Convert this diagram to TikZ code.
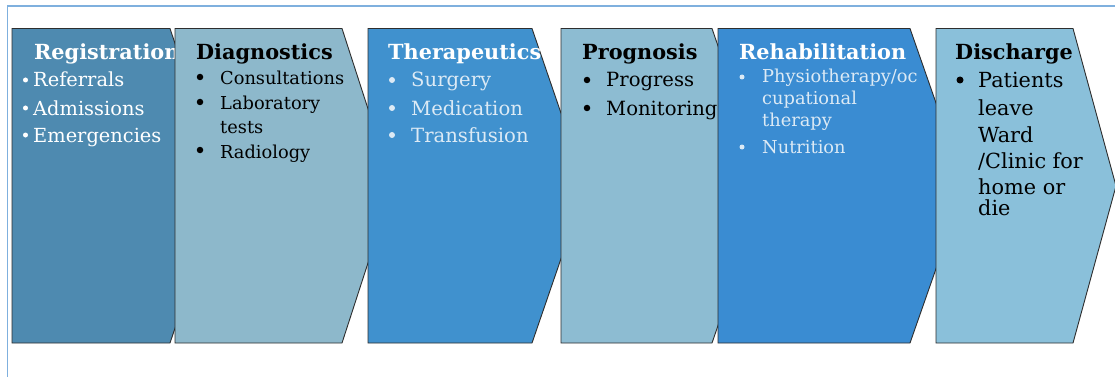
\documentclass[tikz,border=0pt]{standalone}
\usepackage{fontspec}
\setmainfont{DejaVu Serif}
\definecolor{frameblue}{HTML}{7FB0DE}
\definecolor{regfill}{HTML}{4E8AB0}
\definecolor{diagfill}{HTML}{8DB8CB}
\definecolor{therfill}{HTML}{4091CE}
\definecolor{progfill}{HTML}{8DBCD2}
\definecolor{rehabfill}{HTML}{3A8CD2}
\definecolor{discfill}{HTML}{8AC0DA}
\definecolor{paletext}{HTML}{DCEAF5}
\definecolor{edge}{HTML}{2E2E2E}
% one stage of the pathway: fill, left x, top/bottom right corner x, tip x
\newcommand\stagebox[5]{%
  \path[stage,fill=#2] (#3,28.5) -- (#4,28.5) -- (#5,186) -- (#4,343) -- (#3,343) -- cycle;}
\begin{document}
\begin{tikzpicture}[x=1pt,y=-1pt,
  stage/.style={draw=edge, line width=0.9pt, line join=miter},
  ttl/.style={anchor=base west, inner sep=0pt, font=\fontsize{20.8}{20.8}\selectfont\bfseries},
  itm/.style={anchor=base west, inner sep=0pt},
  dot/.style={circle, inner sep=0pt, minimum size=#1},
  regtxt/.style={text=white, font=\fontsize{19.4}{19.4}\selectfont},
  regdot/.style={dot=5pt, fill=white},
  diagtxt/.style={text=black, font=\fontsize{17.8}{17.8}\selectfont},
  diagdot/.style={dot=6.5pt, fill=black},
  thertxt/.style={text=paletext, font=\fontsize{19.6}{19.6}\selectfont},
  therdot/.style={dot=6pt, fill=paletext},
  progtxt/.style={text=black, font=\fontsize{19.6}{19.6}\selectfont},
  progdot/.style={dot=6.5pt, fill=black},
  rehabtxt/.style={text=paletext, font=\fontsize{17.8}{17.8}\selectfont},
  rehabdot/.style={dot=5pt, fill=paletext},
  disctxt/.style={text=black, font=\fontsize{20.8}{20.8}\selectfont},
  discdot/.style={dot=7pt, fill=black},
]
\useasboundingbox (0,0) rectangle (1115,377);
\fill[white] (0,0) rectangle (1115,377);

% outer frame
\draw[frameblue, line width=1.4pt] (7.5,380) -- (7.5,6) -- (1120,6);

% each stage is drawn with its text, then the next stage covers its tip

% Registration
\stagebox{reg}{regfill}{12}{170}{223}
\node[ttl, text=white] (regT) at (34,60) {Registration};
\node[regdot] (regB1) at (25.5,80) {};
\node[itm, regtxt] (regI1) at (33,87) {Referrals};
\node[regdot] (regB2) at (25.5,108) {};
\node[itm, regtxt] (regI2) at (33,115) {Admissions};
\node[regdot] (regB3) at (25.5,135) {};
\node[itm, regtxt] (regI3) at (33,142) {Emergencies};

% Diagnostics
\stagebox{diag}{diagfill}{175}{342}{393}
\node[ttl, text=black] (diagT) at (196,60) {Diagnostics};
\node[diagdot] (diagB1) at (200,77) {};
\node[itm, diagtxt] (diagI1) at (220,85) {Consultations};
\node[diagdot] (diagB2) at (200,102) {};
\node[itm, diagtxt] (diagI2) at (220,110) {Laboratory};
\node[itm, diagtxt] (diagI2b) at (220,133) {tests};
\node[diagdot] (diagB3) at (200,150) {};
\node[itm, diagtxt] (diagI3) at (220,158) {Radiology};

% Therapeutics
\stagebox{ther}{therfill}{368}{532}{586}
\node[ttl, text=white] (therT) at (388,60) {Therapeutics};
\node[therdot] (therB1) at (392,80) {};
\node[itm, thertxt] (therI1) at (411,87) {Surgery};
\node[therdot] (therB2) at (392,108) {};
\node[itm, thertxt] (therI2) at (411,115) {Medication};
\node[therdot] (therB3) at (392,135) {};
\node[itm, thertxt] (therI3) at (411,142) {Transfusion};

% Prognosis
\stagebox{prog}{progfill}{561}{712}{766}
\node[ttl, text=black] (progT) at (582,60) {Prognosis};
\node[progdot] (progB1) at (587,80) {};
\node[itm, progtxt] (progI1) at (606,87) {Progress};
\node[progdot] (progB2) at (587,108) {};
\node[itm, progtxt] (progI2) at (606,115) {Monitoring};

% Rehabilitation
\stagebox{rehab}{rehabfill}{718}{910}{965}
\node[ttl, text=white] (rehabT) at (739,60) {Rehabilitation};
\node[rehabdot] (rehabB1) at (742,77) {};
\node[itm, rehabtxt] (rehabI1) at (762,83) {Physiotherapy/oc};
\node[itm, rehabtxt] (rehabI1b) at (762,105) {cupational};
\node[itm, rehabtxt] (rehabI1c) at (762,127) {therapy};
\node[rehabdot] (rehabB2) at (742,147) {};
\node[itm, rehabtxt] (rehabI2) at (762,153) {Nutrition};

% Discharge
\stagebox{disc}{discfill}{936}{1073}{1116}
\node[ttl, text=black] (discT) at (955,60) {Discharge};
\node[discdot] (discB1) at (960,80) {};
\node[itm, disctxt] (discI1) at (978,88) {Patients};
\node[itm, disctxt] (discI1b) at (978,115) {leave};
\node[itm, disctxt] (discI1c) at (978,142) {Ward};
\node[itm, disctxt] (discI1d) at (978,168) {/Clinic for};
\node[itm, disctxt] (discI1e) at (978,194) {home or};
\node[itm, disctxt] (discI1f) at (978,215) {die};
\end{tikzpicture}
\end{document}
